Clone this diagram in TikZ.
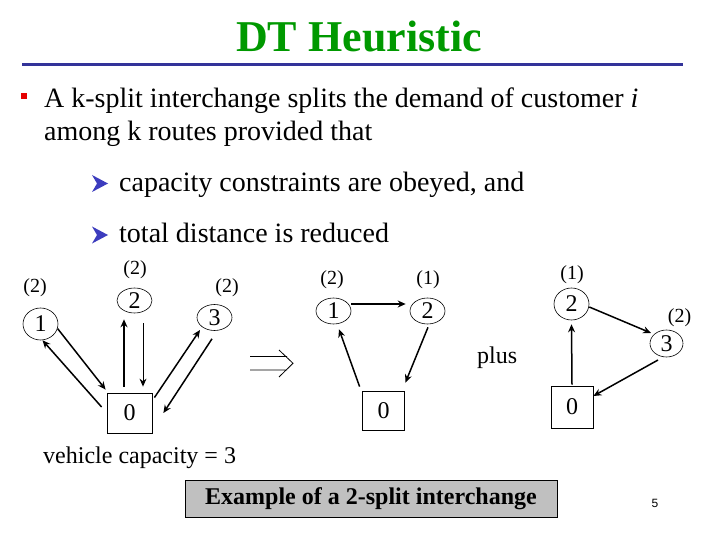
\documentclass[tikz,border=0pt]{standalone}
\usepackage{fontspec}
\setmainfont{Liberation Serif}
\newfontfamily\arialf{Liberation Sans}
\usetikzlibrary{arrows.meta,shapes.geometric}
\definecolor{titlegreen}{RGB}{0,153,0}
\definecolor{rulenavy}{RGB}{51,51,153}
\definecolor{bulletred}{RGB}{230,0,0}
\definecolor{arrowblue}{RGB}{60,60,190}
\definecolor{boxgray}{RGB}{192,192,192}
\begin{document}
\begin{tikzpicture}[x=1pt,y=-1pt,
  cnode/.style={ellipse,draw,line width=0.6pt,inner sep=0pt,minimum width=35pt,minimum height=28pt,font=\fontsize{24}{24}\selectfont},
  depot/.style={rectangle,draw,line width=0.8pt,minimum width=43pt,minimum height=40pt,inner sep=0pt,font=\fontsize{24}{24}\selectfont},
  dem/.style={font=\fontsize{20}{20}\selectfont,inner sep=0pt},
  arr/.style={line width=1.5pt,-{Stealth[length=8pt,width=7pt]}},
  body/.style={anchor=base west,inner sep=0pt,font=\fontsize{28}{33}\selectfont},
  small/.style={anchor=base west,inner sep=0pt,font=\fontsize{24}{24}\selectfont},
]
\useasboundingbox (0,0) rectangle (720,540);
\fill[white] (0,0) rectangle (720,540);

% title and rule
\node[anchor=base,text=titlegreen,font=\fontsize{44}{44}\selectfont\bfseries,inner sep=0pt] (title) at (359,52) {DT Heuristic};
\draw[rulenavy,line width=3pt] (22,65) -- (683,65);

% bullets and body text
\fill[bulletred] (21,93) rectangle (27,99);
\node[body] (l1) at (44,108) {A k-split interchange splits the demand of customer \textit{i}};
\node[body] (l2) at (44,141) {among k routes provided that};
\fill[arrowblue] (92,175) -- (108,183.5) -- (92,192) -- (97,183.5) -- cycle;
\node[body] (l3) at (119,192) {capacity constraints are obeyed, and};
\fill[arrowblue] (92,226.5) -- (108,235) -- (92,243.5) -- (97,235) -- cycle;
\node[body] (l4) at (119,242) {total distance is reduced};

% part 1
\node[cnode,minimum height=32pt] (n1) at (40.5,324) {1};
\node[cnode,minimum height=25pt] (n2) at (134.5,300.5) {2};
\node[cnode,minimum height=26pt] (n3) at (214.5,317.5) {3};
\node[depot,minimum width=45pt] (b0) at (129.5,413) {0};
\node[dem] (d1) at (35,288) {(2)};
\node[dem] (d2) at (135,270) {(2)};
\node[dem] (d3) at (227,288) {(2)};
\draw[arr] (n1.-15) -- ([shift={(-1pt,3pt)}]b0.north west);
\draw[arr] ([shift={(-5pt,6pt)}]b0.west) -- ([xshift=2pt]n1.south);
\draw[arr] ([shift={(-5.5pt,6pt)}]b0.north) -- ([shift={(-10.5pt,-6pt)}]n2.south);
\draw[arr,line width=1pt] ([shift={(8.5pt,-10pt)}]n2.south) -- ([shift={(13.5pt,6pt)}]b0.north);
\draw[arr] ([shift={(2pt,-5pt)}]b0.north east) -- ([shift={(-14.5pt,-12.5pt)}]n3.center);
\draw[arr] ([shift={(-2.5pt,-8pt)}]n3.south) -- ([xshift=11pt]b0.east);

% implies sign
\draw[line width=0.8pt] (250,356.5) -- (287,356.5) (250,370) -- (287,370)
  (279,350) -- (293,363.3) -- (279,377);

% part 2
\node[cnode,minimum height=26pt] (m1) at (333.5,311) {1};
\node[cnode,minimum height=26pt] (m2) at (427.5,311) {2};
\node[depot,minimum width=42pt,minimum height=39pt] (b1) at (383.5,411) {0};
\node[dem] (e1) at (332,280) {(2)};
\node[dem] (e2) at (428,280) {(1)};
\draw[arr] ([yshift=7pt]m1.east) -- ([shift={(-4pt,7pt)}]m2.west);
\draw[arr] ([shift={(-2.5pt,4.5pt)}]b1.north west) -- ([shift={(5.5pt,-5pt)}]m1.south);
\draw[arr] ([shift={(0.5pt,-3pt)}]m2.south) -- ([shift={(0.5pt,8.5pt)}]b1.north east);

% part 3
\node[small] (plus) at (477,363) {plus};
\node[cnode,minimum height=32pt] (p2) at (571.5,304) {2};
\node[cnode,minimum width=33pt,minimum height=27pt] (p3) at (666.5,343.5) {3};
\node[depot,minimum width=42pt,minimum height=42pt] (b2) at (572,407) {0};
\node[dem] (f2) at (572,275) {(1)};
\node[dem] (f3) at (679.5,318) {(2)};
\draw[arr] ([yshift=1pt]b2.north) -- ([yshift=-4pt]p2.south);
\draw[arr] ([yshift=-3pt]p2.east) -- ([shift={(-15.5pt,10.5pt)}]p3.center);
\draw[arr] ([shift={(-8.5pt,-16.5pt)}]p3.center) -- ([yshift=11pt]b2.east);

% bottom
\node[small] (veh) at (43,463) {vehicle capacity = 3};
\node[draw,fill=boxgray,line width=1pt,minimum width=372pt,minimum height=37pt,inner sep=0pt,font=\fontsize{24}{24}\selectfont\bfseries] (ex) at (371,498.5) {Example of a 2-split interchange};
\node[font=\arialf\fontsize{12}{12}\selectfont,inner sep=0pt] (pg) at (655,503) {5};
\end{tikzpicture}
\end{document}
